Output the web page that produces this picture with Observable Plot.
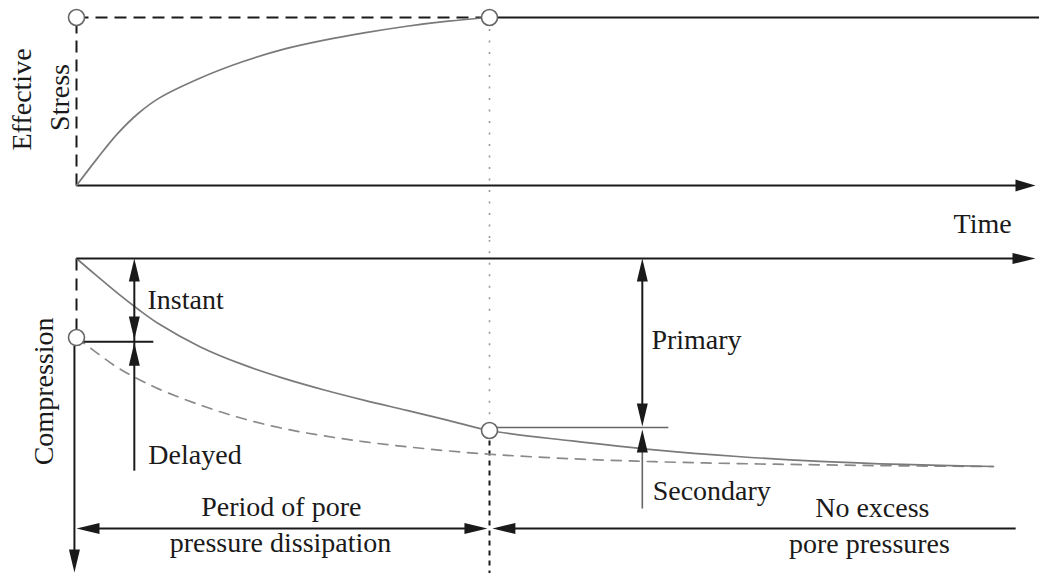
<!DOCTYPE html>
<html><head><meta charset="utf-8">
<script src="https://cdn.jsdelivr.net/npm/d3@7"></script>
<script src="https://cdn.jsdelivr.net/npm/@observablehq/plot@0.6"></script>
<style>body{margin:0;background:#fff} #chart svg{display:block}</style>
</head><body><div id="chart"></div>
<script>
// Time axis: 0 = load applied, 1 = end of pore-pressure dissipation
const stressTime  = [0, 0.05, 0.1, 0.15, 0.2, 0.3, 0.4, 0.5, 0.6, 0.7, 0.8, 0.9, 1];
const stressValue = [0, 0.16, 0.31, 0.43, 0.52, 0.64, 0.735, 0.81, 0.865, 0.91, 0.948, 0.978, 1];

const totalTime = [0, 0.05, 0.1, 0.15, 0.2, 0.3, 0.4, 0.5, 0.6, 0.7, 0.8, 0.9, 1, 1.2, 1.4, 1.6, 1.8, 2.0, 2.22];
const totalComp = [0, 0.085, 0.168, 0.245, 0.315, 0.425, 0.508, 0.575, 0.632, 0.683, 0.73, 0.778, 0.827, 0.877, 0.92, 0.952, 0.975, 0.99, 1];

const delayedTime = [0, 0.05, 0.1, 0.15, 0.2, 0.3, 0.4, 0.5, 0.6, 0.7, 0.8, 0.9, 1, 1.2, 1.4, 1.6, 1.8, 2.0, 2.22];
const delayedComp = [0.38, 0.455, 0.525, 0.58, 0.628, 0.705, 0.768, 0.817, 0.853, 0.882, 0.905, 0.925, 0.941, 0.963, 0.977, 0.986, 0.992, 0.997, 1];

const keyTime = [0, 1];            // load application, end of dissipation
const keyStress = [1, 1];
const keyComp = [0.38, 0.827];     // instant compression, end of primary
const axisEnd = 2.322;
const instantArrowT = 0.14, primaryArrowT = 1.37;

const topLabels = ["Effective", "Stress", "Time"];
const topLabelT = [-0.109, -0.019, 2.194];
const topLabelS = [0.512, 0.524, -0.28];
const topLabelRot = [-90, -90, 0];

const sideLabels = ["Instant", "Delayed", "Primary", "Secondary"];
const sideLabelT = [0.172, 0.174, 1.392, 1.395];
const sideLabelC = [0.245, 0.986, 0.433, 1.163];

const spanLabels = ["Period of pore", "pressure dissipation", "No excess", "pore pressures", "Compression"];
const spanLabelT = [0.496, 0.494, 1.927, 1.920, -0.056];
const spanLabelC = [1.236, 1.413, 1.245, 1.418, 0.639];
const spanLabelRot = [0, 0, 0, 0, -90];

const FONT = "Liberation Serif, Times New Roman, serif";
const INK = "#1a1a1a";
const headDim = {draw(c) { c.moveTo(0, 0); c.lineTo(5.5, 23); c.lineTo(-5.5, 23); c.closePath(); }};
const headAxis = {draw(c) { c.moveTo(0, 0); c.lineTo(6, 20); c.lineTo(-6, 20); c.closePath(); }};

const zip = (a, b, k1, k2) => a.map((v, i) => ({[k1]: v, [k2]: b[i]}));
const seg = (data, opts) => Plot.link(data, {x1: "x1", x2: "x2", y1: "y1", y2: "y2", ...opts});

// ---------- Top panel: effective stress ----------
const stressCurve = zip(stressTime, stressValue, "t", "s");
const topKeys = zip(keyTime, keyStress, "t", "s");
const topText = topLabels.map((l, i) => ({l, t: topLabelT[i], s: topLabelS[i], r: topLabelRot[i]}));

const stressPlot = Plot.plot({
  width: 1039, height: 240, margin: 0,
  x: {domain: [0, 1], range: [76, 489], axis: null},
  y: {domain: [0, 1], range: [185, 17], axis: null},
  marks: [
    seg([{x1: keyTime[1], x2: keyTime[1], y1: keyStress[1], y2: -0.33}], {stroke: "#999", strokeWidth: 1.6, strokeDasharray: "2,9.5"}),
    seg([{x1: 0, x2: keyTime[1], y1: 1, y2: 1}, {x1: 0, x2: 0, y1: 0, y2: 1}], {stroke: INK, strokeWidth: 2, strokeDasharray: "12,7"}),
    seg([{x1: keyTime[1], x2: 2.34, y1: 1, y2: 1}, {x1: 0, x2: axisEnd - 0.03, y1: 0, y2: 0}], {stroke: INK, strokeWidth: 2}),
    Plot.line(stressCurve, {x: "t", y: "s", stroke: "#7a7a7a", strokeWidth: 1.7, curve: "catmull-rom"}),
    Plot.dot([{t: axisEnd, s: 0}], {x: "t", y: "s", symbol: headAxis, rotate: 90, fill: INK, stroke: "none"}),
    Plot.dot(topKeys, {x: "t", y: "s", r: 8, fill: "white", stroke: "#666", strokeWidth: 1.6}),
    Plot.text(topText, {x: "t", y: "s", text: "l", rotate: "r", fontFamily: FONT, fontSize: 28, fill: INK, textAnchor: "middle", lineAnchor: "bottom"})
  ]
});

// ---------- Bottom panel: compression ----------
const totalCurve = zip(totalTime, totalComp, "t", "c");
const delayedCurve = zip(delayedTime, delayedComp, "t", "c");
const lowKeys = zip(keyTime, keyComp, "t", "c");
const sideText = sideLabels.map((l, i) => ({l, t: sideLabelT[i], c: sideLabelC[i]}));
const spanText = spanLabels.map((l, i) => ({l, t: spanLabelT[i], c: spanLabelC[i], r: spanLabelRot[i]}));
const instTick = 0.40, primTick = 0.8125, delayedBase = 1.02, secondaryBase = 1.202, dimC = 1.298, compAxisEnd = 1.51;

const blackSegs = [
  {x1: 0, x2: axisEnd - 0.03, y1: 0, y2: 0},
  {x1: -0.005, x2: -0.005, y1: keyComp[0] + 0.04, y2: compAxisEnd - 0.05},
  {x1: 0, x2: 0.186, y1: instTick, y2: instTick},
  {x1: instantArrowT, x2: instantArrowT, y1: 0.05, y2: delayedBase},
  {x1: primaryArrowT, x2: primaryArrowT, y1: 0.05, y2: primTick - 0.05},
  {x1: 0.02, x2: 0.98, y1: dimC, y2: dimC},
  {x1: 1.02, x2: 2.274, y1: dimC, y2: dimC}
];
const heads = [
  {t: axisEnd, c: 0, a: 90}, {t: -0.005, c: compAxisEnd, a: 180},
  {t: instantArrowT, c: 0, a: 0}, {t: instantArrowT, c: instTick - 0.01, a: 180}, {t: instantArrowT, c: instTick + 0.005, a: 0},
  {t: primaryArrowT, c: 0, a: 0}, {t: primaryArrowT, c: primTick - 0.005, a: 180}, {t: primaryArrowT, c: primTick + 0.01, a: 0},
  {t: 0, c: dimC, a: 270}, {t: 0.995, c: dimC, a: 90}, {t: 1.007, c: dimC, a: 270}
];

const compPlot = Plot.plot({
  width: 1039, height: 333, margin: 0,
  x: {domain: [0, 1], range: [76, 489], axis: null},
  y: {domain: [0, 1], range: [18, 226], axis: null},
  marks: [
    seg([{x1: 1, x2: 1, y1: -0.09, y2: keyComp[1]}], {stroke: "#999", strokeWidth: 1.6, strokeDasharray: "2,9.5"}),
    seg([{x1: 1, x2: 1, y1: keyComp[1], y2: 1.52}], {stroke: INK, strokeWidth: 2, strokeDasharray: "5,5"}),
    seg([{x1: 0, x2: 0, y1: 0, y2: keyComp[0]}], {stroke: INK, strokeWidth: 2, strokeDasharray: "12,8"}),
    Plot.line(delayedCurve, {x: "t", y: "c", stroke: "#8a8a8a", strokeWidth: 1.7, strokeDasharray: "10,8", curve: "catmull-rom"}),
    Plot.line(totalCurve, {x: "t", y: "c", stroke: "#7a7a7a", strokeWidth: 1.7, curve: "catmull-rom"}),
    seg(blackSegs, {stroke: INK, strokeWidth: 2}),
    seg([{x1: 1, x2: 1.433, y1: primTick, y2: primTick}, {x1: primaryArrowT, x2: primaryArrowT, y1: primTick + 0.05, y2: secondaryBase}], {stroke: "#666", strokeWidth: 1.6}),
    Plot.dot(heads, {x: "t", y: "c", symbol: headDim, rotate: "a", fill: INK, stroke: "none"}),
    Plot.dot(lowKeys, {x: "t", y: "c", r: 8, fill: "white", stroke: "#666", strokeWidth: 1.6}),
    Plot.text(sideText, {x: "t", y: "c", text: "l", textAnchor: "start", fontFamily: FONT, fontSize: 28, fill: INK, lineAnchor: "bottom"}),
    Plot.text(spanText, {x: "t", y: "c", text: "l", rotate: "r", textAnchor: "middle", fontFamily: FONT, fontSize: 28, fill: INK, lineAnchor: "bottom"})
  ]
});

document.getElementById("chart").append(stressPlot, compPlot);
</script>
</body></html>
